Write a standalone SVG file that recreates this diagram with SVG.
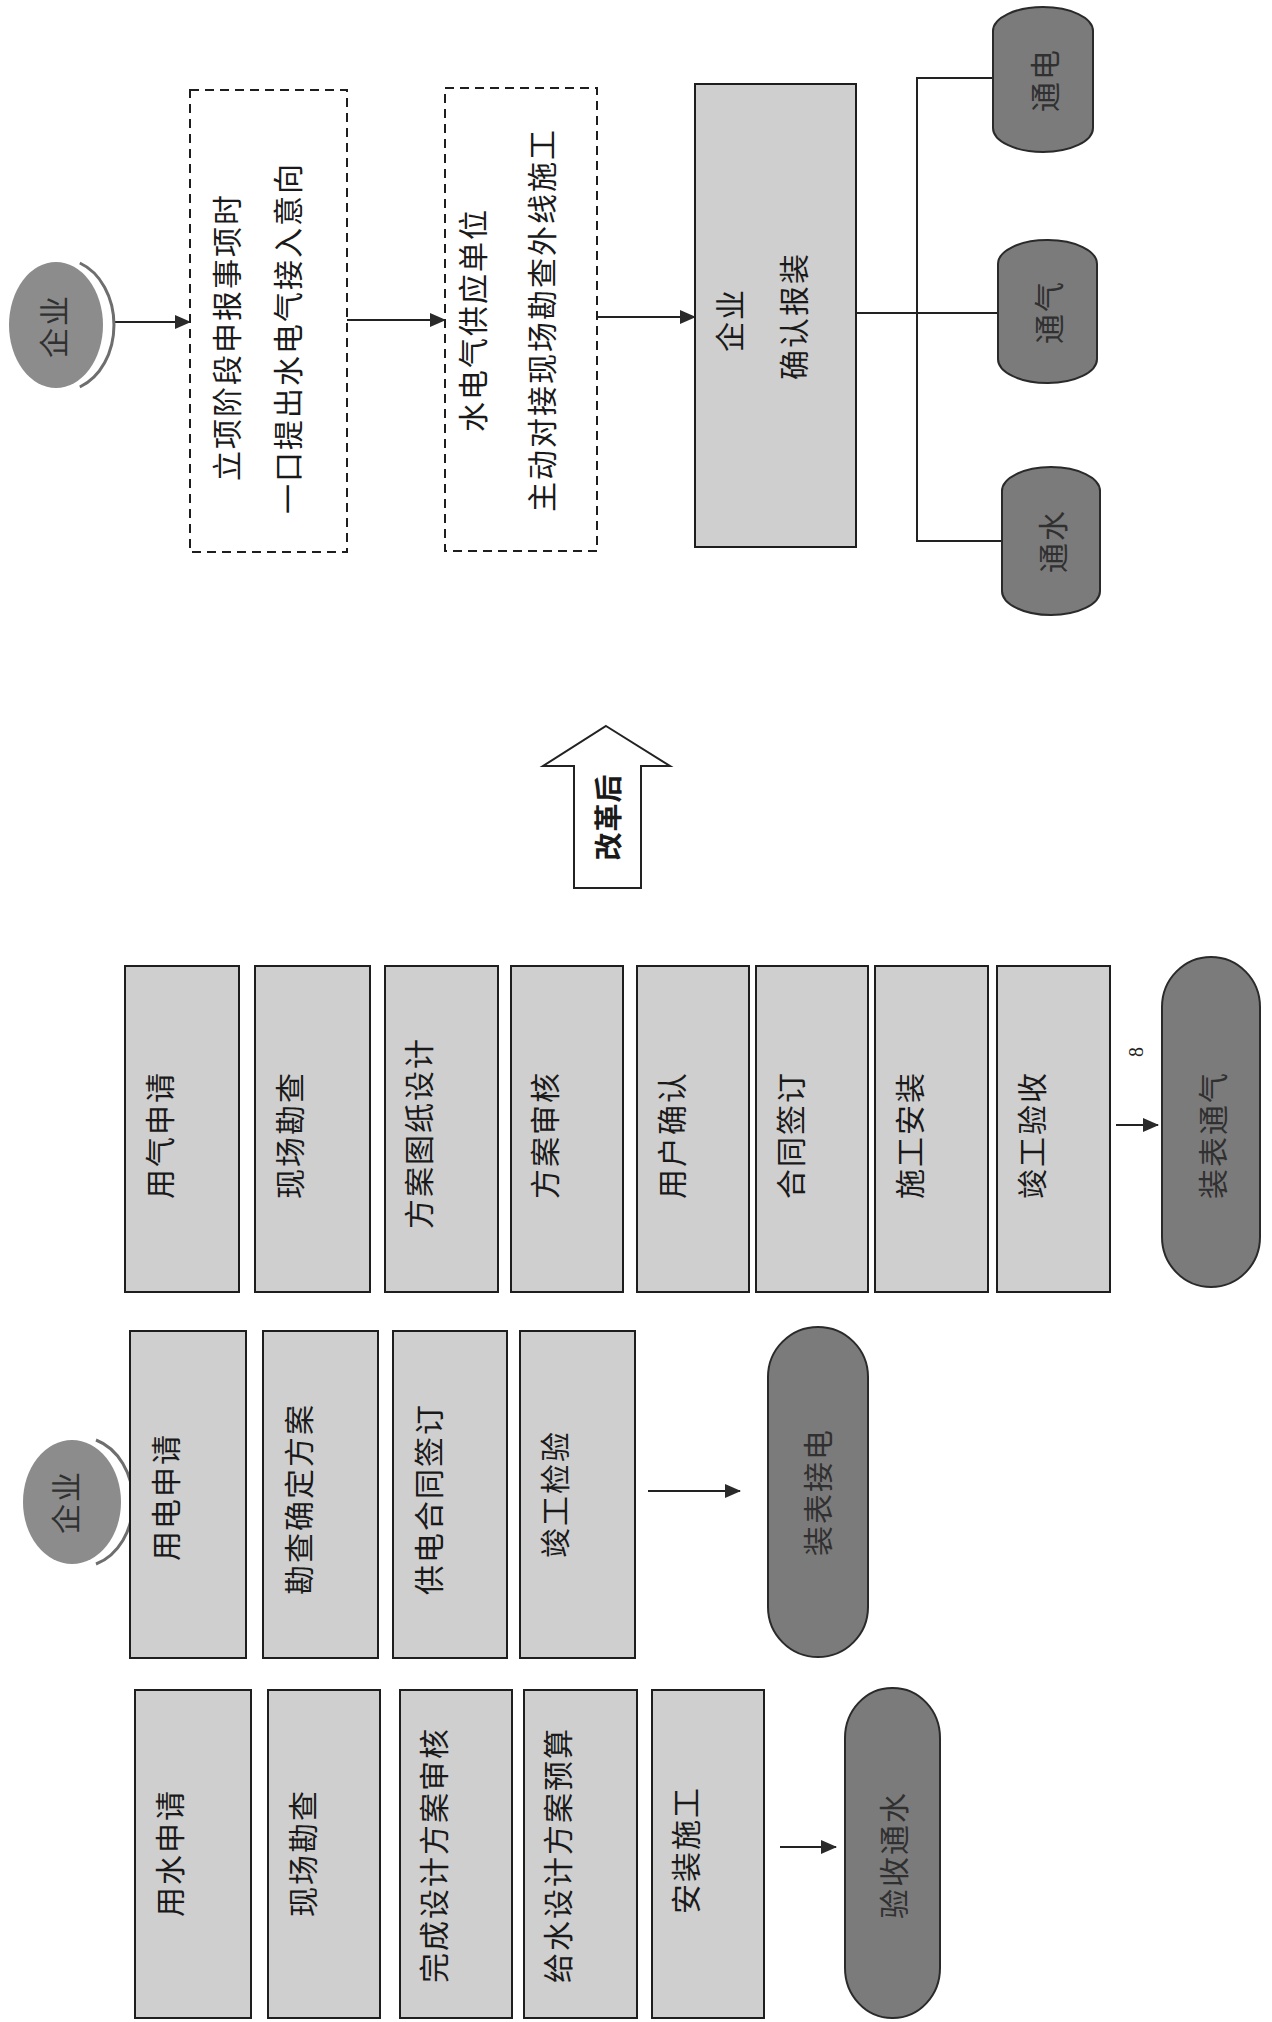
<svg xmlns="http://www.w3.org/2000/svg" width="1272" height="2022" viewBox="0 0 1272 2022">
<defs>
<style>
.box{fill:#cfcfcf;stroke:#1e1e1e;stroke-width:2}
.dash{fill:#ffffff;stroke:#1e1e1e;stroke-width:2;stroke-dasharray:9 6}
.term{fill:#7b7b7b;stroke:#2a2a2a;stroke-width:2}
.ell{fill:#8c8c8c;stroke:none}
.shade{fill:none;stroke:#6e6e6e;stroke-width:3}
.t{font-family:"Noto Sans CJK SC","Noto Sans CJK TC",sans-serif;font-size:30px;fill:#1a1a1a;text-anchor:middle;dominant-baseline:central;letter-spacing:2px}
.td{fill:#303030}
.b{font-weight:bold;font-size:28px;letter-spacing:1px}
.n{font-family:"Liberation Serif",serif;font-size:20px;fill:#222;text-anchor:middle;dominant-baseline:central}
.conn{stroke:#222;stroke-width:2;fill:none}
.arr{marker-end:url(#ah)}
.big{fill:#ffffff;stroke:#222;stroke-width:2}
</style>
<marker id="ah" markerWidth="16" markerHeight="14" refX="15" refY="7" orient="auto" markerUnits="userSpaceOnUse">
<path d="M0,0 L16,7 L0,14 Z" fill="#2a2a2a"/>
</marker>
</defs>
<rect width="1272" height="2022" fill="#ffffff"/>

<g id="connectors">
<line class="conn arr" x1="114" y1="322" x2="190" y2="322"/>
<line class="conn arr" x1="347" y1="320" x2="445" y2="320"/>
<line class="conn arr" x1="597" y1="317" x2="695" y2="317"/>
<line class="conn" x1="856" y1="313" x2="998" y2="313"/>
<polyline class="conn" points="993,78 917,78 917,541 1002,541"/>
<line class="conn arr" x1="1116" y1="1125" x2="1158" y2="1125"/>
<line class="conn arr" x1="648" y1="1491" x2="740" y2="1491"/>
<line class="conn arr" x1="780" y1="1847" x2="836" y2="1847"/>
</g>

<!-- top: after reform -->
<g id="n-qiye-top">
<ellipse class="ell" cx="56" cy="325" rx="47" ry="63"/>
<path class="shade" d="M79.8,263 A52,66 0 0,1 79.8,387"/>
<text class="t td" transform="translate(52,326) rotate(-90)">企业</text>
</g>
<g id="n-lixiang">
<rect class="dash" x="190" y="90" width="157" height="462"/>
<text class="t" transform="translate(225,337) rotate(-90)">立项阶段申报事项时</text>
<text class="t" transform="translate(286,338) rotate(-90)">一口提出水电气接入意向</text>
</g>
<g id="n-gongying">
<rect class="dash" x="445" y="88" width="152" height="463"/>
<text class="t" transform="translate(471,320) rotate(-90)">水电气供应单位</text>
<text class="t" transform="translate(540,320) rotate(-90)">主动对接现场勘查外线施工</text>
</g>
<g id="n-baozhuang">
<rect class="box" x="695" y="84" width="161" height="463"/>
<text class="t" transform="translate(728,320) rotate(-90)">企业</text>
<text class="t" transform="translate(792,316) rotate(-90)">确认报装</text>
</g>
<g id="n-tongdian">
<rect class="term" x="993" y="7" width="100" height="145" rx="50" ry="24"/>
<text class="t td" transform="translate(1043,80) rotate(-90)">通电</text>
</g>
<g id="n-tongqi">
<rect class="term" x="998" y="240" width="99" height="143" rx="49" ry="24"/>
<text class="t td" transform="translate(1047,312) rotate(-90)">通气</text>
</g>
<g id="n-tongshui">
<rect class="term" x="1002" y="467" width="98" height="148" rx="49" ry="24"/>
<text class="t td" transform="translate(1051,541) rotate(-90)">通水</text>
</g>

<g id="n-gaigehou">
<polygon class="big" points="606,726 670,766 641,766 641,888 574,888 574,766 543,766"/>
<text class="t b" transform="translate(607,817) rotate(-90)">改革后</text>
</g>

<!-- gas -->
<g id="n-g1"><rect class="box" x="125" y="966" width="114" height="326"/><text class="t" transform="translate(158,1135) rotate(-90)">用气申请</text></g>
<g id="n-g2"><rect class="box" x="255" y="966" width="115" height="326"/><text class="t" transform="translate(288,1135) rotate(-90)">现场勘查</text></g>
<g id="n-g3"><rect class="box" x="385" y="966" width="113" height="326"/><text class="t" transform="translate(417,1133) rotate(-90)">方案图纸设计</text></g>
<g id="n-g4"><rect class="box" x="511" y="966" width="112" height="326"/><text class="t" transform="translate(543,1135) rotate(-90)">方案审核</text></g>
<g id="n-g5"><rect class="box" x="637" y="966" width="112" height="326"/><text class="t" transform="translate(670,1135) rotate(-90)">用户确认</text></g>
<g id="n-g6"><rect class="box" x="756" y="966" width="112" height="326"/><text class="t" transform="translate(789,1135) rotate(-90)">合同签订</text></g>
<g id="n-g7"><rect class="box" x="875" y="966" width="113" height="326"/><text class="t" transform="translate(908,1135) rotate(-90)">施工安装</text></g>
<g id="n-g8"><rect class="box" x="997" y="966" width="113" height="326"/><text class="t" transform="translate(1030,1135) rotate(-90)">竣工验收</text></g>
<text class="n" transform="translate(1136,1052) rotate(-90)">8</text>
<g id="n-gas-end"><rect class="term" x="1162" y="957" width="98" height="330" rx="49" ry="50"/><text class="t td" transform="translate(1211,1135) rotate(-90)">装表通气</text></g>

<!-- electricity -->
<g id="n-qiye-bottom">
<ellipse class="ell" cx="72" cy="1502" rx="49" ry="62"/>
<path class="shade" d="M96,1440 A53,65 0 0,1 96,1564"/>
<text class="t td" transform="translate(64,1502) rotate(-90)">企业</text>
</g>
<g id="n-e1"><rect class="box" x="130" y="1331" width="116" height="327"/><text class="t" transform="translate(164,1497) rotate(-90)">用电申请</text></g>
<g id="n-e2"><rect class="box" x="263" y="1331" width="115" height="327"/><text class="t" transform="translate(297,1499) rotate(-90)">勘查确定方案</text></g>
<g id="n-e3"><rect class="box" x="393" y="1331" width="114" height="327"/><text class="t" transform="translate(427,1499) rotate(-90)">供电合同签订</text></g>
<g id="n-e4"><rect class="box" x="520" y="1331" width="115" height="327"/><text class="t" transform="translate(553,1494) rotate(-90)">竣工检验</text></g>
<g id="n-elec-end"><rect class="term" x="768" y="1327" width="100" height="330" rx="50" ry="50"/><text class="t td" transform="translate(816,1492) rotate(-90)">装表接电</text></g>

<!-- water -->
<g id="n-w1"><rect class="box" x="135" y="1690" width="116" height="328"/><text class="t" transform="translate(168,1853) rotate(-90)">用水申请</text></g>
<g id="n-w2"><rect class="box" x="268" y="1690" width="112" height="328"/><text class="t" transform="translate(301,1853) rotate(-90)">现场勘查</text></g>
<g id="n-w3"><rect class="box" x="400" y="1690" width="112" height="328"/><text class="t" transform="translate(432,1855) rotate(-90)">完成设计方案审核</text></g>
<g id="n-w4"><rect class="box" x="524" y="1690" width="113" height="328"/><text class="t" transform="translate(556,1855) rotate(-90)">给水设计方案预算</text></g>
<g id="n-w5"><rect class="box" x="652" y="1690" width="112" height="328"/><text class="t" transform="translate(684,1850) rotate(-90)">安装施工</text></g>
<g id="n-water-end"><rect class="term" x="845" y="1688" width="95" height="330" rx="47" ry="50"/><text class="t td" transform="translate(892,1855) rotate(-90)">验收通水</text></g>
</svg>
